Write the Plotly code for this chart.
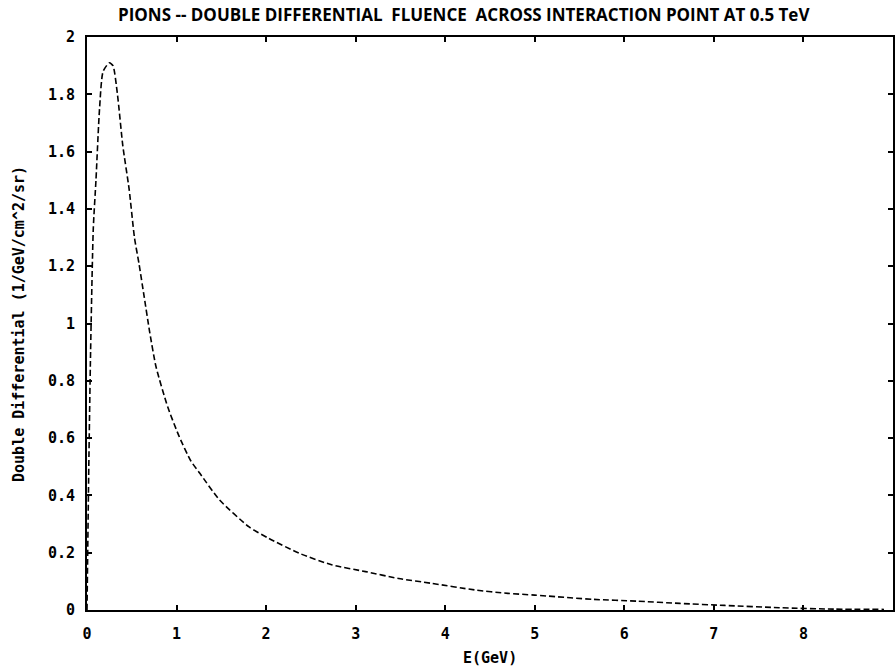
import plotly.graph_objects as go

# Data
energy_gev = [0.0, 0.02, 0.04, 0.07, 0.10, 0.14, 0.18, 0.25, 0.29, 0.34, 0.40, 0.47, 0.53,
              0.58, 0.64, 0.70, 0.77, 0.90, 1.03, 1.16, 1.26, 1.48, 1.81, 2.03, 2.37, 2.74,
              3.11, 3.48, 3.85, 4.33, 4.70, 5.00, 5.66, 6.14, 6.62, 7.12, 7.73, 8.34, 8.90]
fluence = [0.0, 0.5, 0.9, 1.33, 1.50, 1.75, 1.88, 1.91, 1.90, 1.80, 1.62, 1.47, 1.30,
           1.21, 1.09, 0.97, 0.85, 0.71, 0.605, 0.52, 0.477, 0.384, 0.29, 0.25, 0.198, 0.157,
           0.134, 0.11, 0.093, 0.07, 0.058, 0.052, 0.037, 0.031, 0.023, 0.016, 0.008, 0.003, 0.002]

x_ticks = [0, 1, 2, 3, 4, 5, 6, 7, 8, 9]
x_ticktext = ["0", "1", "2", "3", "4", "5", "6", "7", "8", "9"]
y_ticks = [0, 0.2, 0.4, 0.6, 0.8, 1.0, 1.2, 1.4, 1.6, 1.8, 2.0]
y_ticktext = ["0", "0.2", "0.4", "0.6", "0.8", "1", "1.2", "1.4", "1.6", "1.8", "2"]

title_text = "PIONS -- DOUBLE DIFFERENTIAL  FLUENCE  ACROSS INTERACTION POINT AT 0.5 TeV"
x_title = "E(GeV)"
y_title = "Double Differential (1/GeV/cm^2/sr)"

mono = "DejaVu Sans Mono"

fig = go.Figure()
fig.add_trace(go.Scatter(
    x=energy_gev, y=fluence, mode="lines",
    line=dict(color="black", width=1.6, dash="6px,3px", shape="spline", smoothing=0.6),
    showlegend=False, hoverinfo="skip",
))

axis_common = dict(
    showline=True, linecolor="black", linewidth=2, mirror="ticks",
    ticks="inside", ticklen=5, tickwidth=1.5, tickcolor="black",
    showgrid=False, zeroline=False,
    tickfont=dict(family=mono, size=15, color="black", weight="bold"),
)

fig.update_xaxes(range=[0, 9], tickmode="array", tickvals=x_ticks, ticktext=x_ticktext,
                 ticklabelstandoff=9, **axis_common)
fig.update_yaxes(range=[0, 2], tickmode="array", tickvals=y_ticks, ticktext=y_ticktext,
                 ticklabelstandoff=7, **axis_common)

fig.add_annotation(text=title_text, xref="paper", yref="paper", x=0.036, y=1.04,
                   xanchor="left", yanchor="middle", showarrow=False,
                   font=dict(family="Open Sans", size=17, color="black", weight="bold"))
fig.add_annotation(text=x_title, xref="paper", yref="paper", x=0.5, y=-0.084,
                   xanchor="center", yanchor="middle", showarrow=False,
                   font=dict(family=mono, size=15, color="black", weight="bold"))
fig.add_annotation(text=y_title, xref="paper", yref="paper", x=-0.085, y=0.5,
                   xanchor="center", yanchor="middle", showarrow=False, textangle=-90,
                   font=dict(family=mono, size=15, color="black", weight="bold"))

fig.update_layout(
    width=896, height=672,
    margin=dict(l=87, r=1, t=37, b=62),
    plot_bgcolor="white", paper_bgcolor="white",
)

# remove the default body margin so the figure fills the window exactly
fig.write_html("out.html",
               config={"displayModeBar": False},
               post_script="document.body.style.margin='0';document.body.style.overflow='hidden';")
